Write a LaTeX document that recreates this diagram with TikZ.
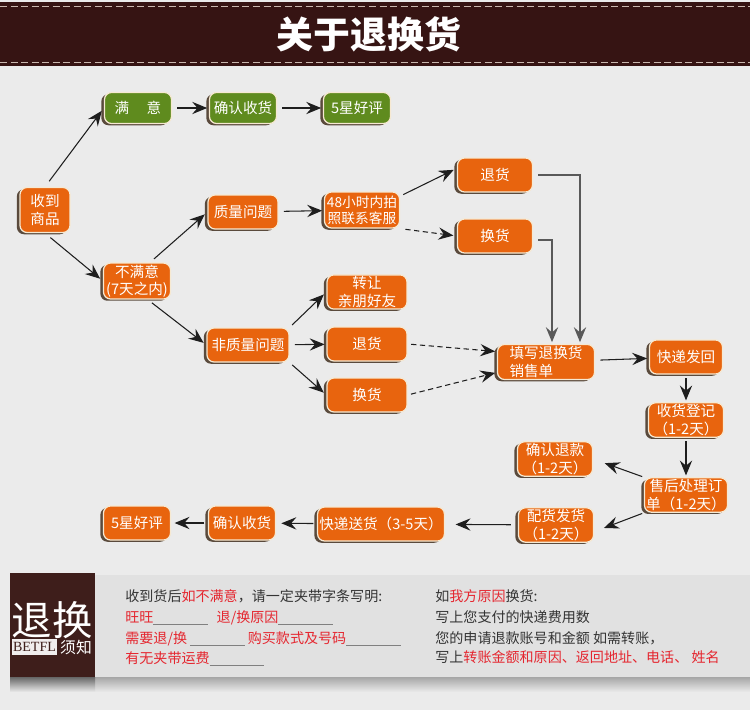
\documentclass[tikz,border=0pt]{standalone}
\usepackage{fontspec}
\setmainfont{Noto Sans CJK SC}
\newfontfamily\serifen{Liberation Serif}
\usetikzlibrary{arrows.meta, positioning, calc, shadows}

\definecolor{bgc}{HTML}{EBEBEB}
\definecolor{headc}{HTML}{361413}
\definecolor{dashc}{HTML}{C9B7AE}
\definecolor{orangec}{HTML}{E8640E}
\definecolor{greenc}{HTML}{5F8B1E}
\definecolor{edgec}{HTML}{F6E9D2}
\definecolor{shadowc}{HTML}{5A4A3C}
\definecolor{arrowc}{HTML}{1E1E1E}
\definecolor{panelc}{HTML}{E1E1E1}
\definecolor{brownc}{HTML}{3E1E1B}
\definecolor{redc}{HTML}{E5262F}
\definecolor{textc}{HTML}{333333}

\newcommand\hl[1]{\textcolor{redc}{#1}}
\newcommand\blank{\textcolor{gray}{\rule[-1.5pt]{31pt}{0.5pt}}}
\newcommand\boxfont{\fontsize{8.3pt}{9.8pt}\selectfont}
\newcommand\notefont{\fontsize{8pt}{9.6pt}\selectfont}

\begin{document}
\begin{tikzpicture}[
  x=0.02cm, y=-0.02cm,
  box/.style={draw=edgec, line width=0.7pt, rounded corners=4pt, fill=orangec,
    text=white, font=\boxfont, align=center, inner sep=1pt,
    minimum width=1.5cm, minimum height=0.68cm,
    drop shadow={shadow xshift=-1.8pt, shadow yshift=-1pt, fill=shadowc, opacity=1}},
  gbox/.style={box, fill=greenc, minimum width=1.34cm, minimum height=0.62cm},
  arr/.style={-{Stealth[length=8.5pt, width=7pt, inset=3pt]}, line width=0.6pt, draw=arrowc},
  darr/.style={arr, densely dashed},
  garr/.style={arr, draw=gray!70!black, line width=0.9pt},
  note/.style={anchor=west, font=\notefont, text=textc, inner sep=0pt}
]
  \useasboundingbox (0,0) rectangle (750,710);
  \fill[bgc] (0,0) rectangle (750,710);

  % header
  \fill[headc] (0,2) rectangle (750,66);
  \draw[dashc, line width=0.5pt, dash pattern=on 4pt off 2pt] (0,6) -- (750,6) (0,62) -- (750,62);
  \node[text=white, font=\fontsize{21pt}{24pt}\selectfont\bfseries] (title) at (369,34) {关于退换货};

  % satisfied branch
  \node[gbox] (manyi) at (138,108) {满\hspace{1.2em}意};
  \node[gbox] (qrsh1) at (243,108) {确认收货};
  \node[gbox] (hp1) at (357,108) {5星好评};

  \node[box, minimum width=1cm, minimum height=0.9cm] (shou) at (45,210) {收到\\商品};
  \node[box, minimum width=1.34cm, minimum height=0.7cm] (bumanyi) at (137,281) {不满意\\(7天之内)};

  % quality problem
  \node[box, minimum width=1.4cm] (zhiliang) at (243,212) {质量问题};
  \node[box, minimum height=0.72cm, font=\fontsize{7.8pt}{9.2pt}\selectfont] (lianxi) at (362,210) {48小时内拍\\照联系客服};
  \node[box] (tui1) at (495,175) {退货};
  \node[box] (huan1) at (495,236) {换货};

  % other problem
  \node[box, minimum width=1.64cm] (feizhi) at (248,345) {非质量问题};
  \node[box, minimum width=1.6cm] (zhuan) at (367,292) {转让\\亲朋好友};
  \node[box, minimum width=1.6cm] (tui2) at (367,344) {退货};
  \node[box, minimum width=1.6cm] (huan2) at (367,395) {换货};

  % return flow
  \node[box, minimum width=1.94cm, minimum height=0.7cm, align=left] (tianxie) at (546,362) {填写退换货\\销售单};
  \node[box, minimum width=1.46cm] (fahui) at (686,357) {快递发回};
  \node[box] (dengji) at (686,420) {收货登记\\（1-2天）};
  \node[box] (shouhou) at (686,495) {售后处理订\\单（1-2天）};
  \node[box] (tuikuan) at (555,459) {确认退款\\（1-2天）};
  \node[box] (peihuo) at (556,525) {配货发货\\（1-2天）};
  \node[box, minimum width=2.3cm] (songhuo) at (381,524) {快递送货（3-5天）};
  \node[box, minimum width=1.34cm] (qrsh2) at (242,523) {确认收货};
  \node[box, minimum width=1.34cm] (hp2) at (137,523) {5星好评};

  \draw[arr, shorten <=4pt, shorten >=2pt] (shou.north) -- (manyi.west);
  \draw[arr, shorten <=4pt, shorten >=2pt] (shou.south) -- (bumanyi.west);
  \draw[arr, shorten <=3pt, shorten >=1pt] (manyi) -- (qrsh1);
  \draw[arr, shorten <=3pt, shorten >=1pt] (qrsh1) -- (hp1);
  \draw[arr, shorten <=3pt, shorten >=2pt] (bumanyi.55) -- (zhiliang.west);
  \draw[arr, shorten <=3pt, shorten >=2pt] (bumanyi.-60) -- (feizhi.west);
  \draw[arr, shorten <=3pt, shorten >=1pt] (zhiliang) -- (lianxi);
  \draw[arr, shorten <=2pt, shorten >=2pt] (lianxi.20) -- (tui1.170);
  \draw[darr, shorten <=3pt, shorten >=2pt] (lianxi.south east) -- (huan1.west);
  \draw[arr, shorten <=2pt, shorten >=2pt] (feizhi.north east) -- (zhuan.west);
  \draw[arr, shorten <=3pt, shorten >=1pt] (feizhi) -- (tui2);
  \draw[arr, shorten <=2pt, shorten >=2pt] (feizhi.south east) -- (huan2.west);
  \draw[darr, shorten <=2pt, shorten >=1pt] (tui2.east) -- (tianxie.168);
  \draw[darr, shorten <=2pt, shorten >=1pt] (huan2.east) -- (tianxie.192);
  \draw[garr, shorten <=3pt, shorten >=1pt] (tui1.east) -| ($(tianxie.north)+(34,0)$);
  \draw[garr, shorten <=3pt, shorten >=1pt] ($(huan1.east)+(0,4)$) -| ($(tianxie.north)+(6,0)$);
  \draw[arr, shorten <=3pt, shorten >=1pt] (tianxie) -- (fahui);
  \draw[arr, shorten <=2pt, shorten >=1pt] (fahui) -- (dengji);
  \draw[arr, shorten <=2pt, shorten >=1pt] (dengji) -- (shouhou);
  \draw[arr, shorten <=1pt, shorten >=7pt] (shouhou.north west) -- (tuikuan.east);
  \draw[arr, shorten <=1pt, shorten >=6pt] (shouhou.south west) -- (peihuo.-10);
  \draw[arr, shorten <=4pt, shorten >=6pt] (peihuo) -- (songhuo);
  \draw[arr, shorten <=2pt, shorten >=3pt] (songhuo) -- (qrsh2);
  \draw[arr, shorten <=2pt, shorten >=2pt] (qrsh2) -- (hp2);

  % notice panel
  \shade[top color=gray!70, bottom color=bgc] (95,677) rectangle (750,692);
  \fill[panelc] (95,575) rectangle (750,677);
  \shade[top color=black!60, bottom color=bgc] (10,677) rectangle (95,692);
  \fill[brownc] (10,573) rectangle (95,677);
  \node[text=white, font=\fontsize{23pt}{26pt}\selectfont, inner sep=0pt] (tuihuan) at (52,620) {退换};
  \node[fill=white!92!brownc, text=brownc, font=\serifen\fontsize{8pt}{9pt}\selectfont,
    inner sep=0pt, minimum width=0.9cm, minimum height=0.32cm] (betfl) at (34.5,647) {BETFL};
  \node[text=white, font=\fontsize{9pt}{10pt}\selectfont, inner sep=0pt] (xuzhi) at (76,647) {须知};

  \node[note] (l1) at (125,596) {收到货后\hl{如不满意}，请一定夹带字条写明:};
  \node[note] (l2) at (125,618) {\hl{旺旺}\blank\hspace{5pt}\hl{退/换原因}\blank};
  \node[note] (l3) at (125,639) {\hl{需要退/换} \blank\ \hl{购买款式及号码}\blank};
  \node[note] (l4) at (125,659) {\hl{有无夹带运费}\blank};

  \node[note] (r1) at (435,596) {如\hl{我方原因}换货:};
  \node[note] (r2) at (435,617) {写上您支付的快递费用数};
  \node[note] (r3) at (435,638) {您的申请退款账号和金额 如需转账，};
  \node[note] (r4) at (435,657) {写上\hl{转账金额和原因、返回地址、电话、 姓名}};
\end{tikzpicture}
\end{document}
